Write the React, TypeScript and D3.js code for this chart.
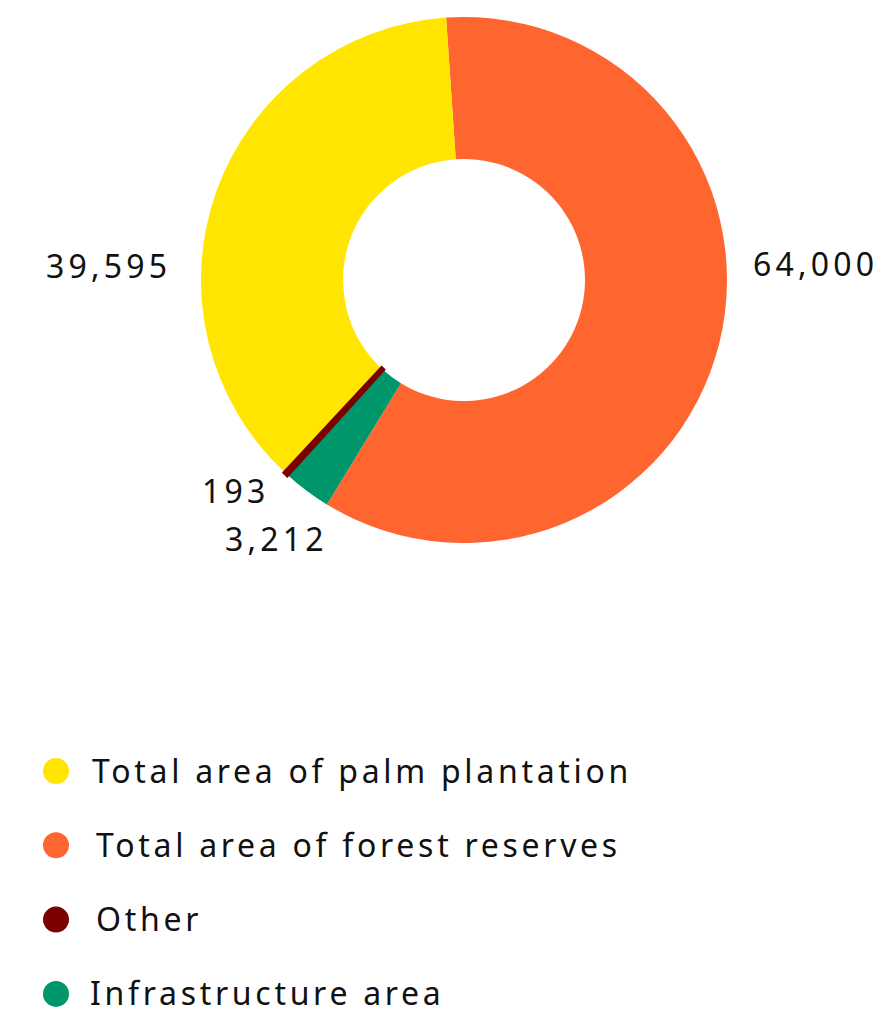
import React from "react";
import * as d3 from "d3";

const categories = ["Total area of forest reserves", "Infrastructure area", "Other", "Total area of palm plantation"];
const values = [64000, 3212, 193, 39595];
const valueLabels = ["64,000", "3,212", "193", "39,595"];
const colors = ["#FF652F", "#00966B", "#7A0000", "#FFE500"];
const legendOrder = ["Total area of palm plantation", "Total area of forest reserves", "Other", "Infrastructure area"];

// label placement (x, y) per slice, start-anchored
const labelPlacement: [number, number][] = [
  [753, 276],
  [225, 551],
  [202, 503],
  [46, 278],
];
const legendTextX = [92, 96, 96, 90];

const W = 886;
const H = 1009;
const cx = 464;
const cy = 280;
const outerR = 263;
const innerR = 121;
const startDeg = -3.9;

export default function App() {
  const pie = d3
    .pie<number>()
    .sort(null)
    .startAngle((startDeg * Math.PI) / 180)
    .endAngle((startDeg * Math.PI) / 180 + 2 * Math.PI);
  const arcs = pie(values);
  const arc = d3.arc<d3.PieArcDatum<number>>().innerRadius(innerR).outerRadius(outerR);
  const font = "'Noto Sans', sans-serif";
  const otherIdx = categories.indexOf("Other");

  return (
    <svg width={W} height={H} style={{ position: "absolute", left: 0, top: 0 }}>
      <g transform={`translate(${cx},${cy})`}>
        {arcs.map((a, i) =>
          i === otherIdx ? null : <path key={i} d={arc(a) || ""} fill={colors[i]} />
        )}
        <path
          d={arc(arcs[otherIdx]) || ""}
          fill={colors[otherIdx]}
          stroke={colors[otherIdx]}
          strokeWidth={4.5}
          strokeLinejoin="miter"
        />
      </g>
      {arcs.map((a, i) => (
        <text
          key={i}
          x={labelPlacement[i][0]}
          y={labelPlacement[i][1]}
          fontFamily={font}
          fontSize={32}
          letterSpacing={4.2}
          fill="#111"
        >
          {valueLabels[i]}
        </text>
      ))}
      {legendOrder.map((name, j) => {
        const i = categories.indexOf(name);
        const y = 771 + j * 74.3;
        return (
          <g key={name}>
            <circle cx={56} cy={y} r={13} fill={colors[i]} />
            <text x={legendTextX[j]} y={y + 11.5} fontFamily={font} fontSize={32} letterSpacing={3.7} fill="#111">
              {name}
            </text>
          </g>
        );
      })}
    </svg>
  );
}
